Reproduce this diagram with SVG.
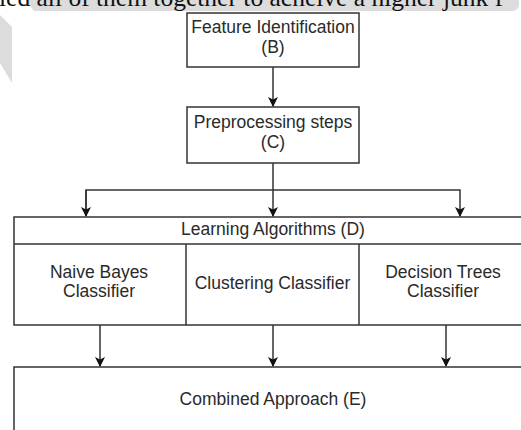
<svg xmlns="http://www.w3.org/2000/svg" width="521" height="430" viewBox="0 0 521 430">
<style>
.box{fill:#fff;stroke:#333;stroke-width:1.5}
.t{font-family:"Liberation Sans",Arial,sans-serif;font-size:17.5px;fill:#2a2a2a;text-anchor:middle}
.c{fill:none;stroke:#333;stroke-width:1.5}
.bg{fill:#dcdcdc}
</style>
<defs>
<marker id="ah" markerWidth="10" markerHeight="10" refX="9" refY="5" orient="auto" markerUnits="userSpaceOnUse">
<path d="M0,0 L10,5 L0,10 L2.5,5 Z" fill="#111"/>
</marker>
</defs>
<rect width="521" height="430" fill="#fff"/>
<g id="header">
<path class="bg" d="M22,-5 H512 Q519,-5 519,3 Q519,11 512,11 H34 Z"/>
<polygon class="bg" points="0,15 12,27 12,83 0,63" fill="#e2e2e2"/>
<text x="-1" y="6" font-family="'Liberation Serif','Times New Roman',serif" font-size="25.5" fill="#111">ied all of them together to acheive a higher junk f</text>
</g>
<g id="nodeB">
<rect class="box" x="187" y="13" width="172" height="54"/>
<text class="t" x="273" y="33">Feature Identification</text>
<text class="t" x="273" y="53">(B)</text>
</g>
<g id="nodeC">
<rect class="box" x="187" y="107" width="172" height="56"/>
<text class="t" x="273" y="128">Preprocessing steps</text>
<text class="t" x="273" y="148">(C)</text>
</g>
<g id="nodeD">
<rect class="box" x="14" y="217" width="530" height="108"/>
<line class="c" x1="14" y1="244" x2="544" y2="244"/>
<line class="c" x1="186" y1="244" x2="186" y2="325"/>
<line class="c" x1="359" y1="244" x2="359" y2="325"/>
<text class="t" x="273" y="235">Learning Algorithms (D)</text>
<text class="t" x="99" y="278">Naive Bayes</text>
<text class="t" x="99" y="297">Classifier</text>
<text class="t" x="272.5" y="289">Clustering Classifier</text>
<text class="t" x="443" y="278">Decision Trees</text>
<text class="t" x="443" y="297">Classifier</text>
</g>
<g id="nodeE">
<rect class="box" x="14" y="367" width="530" height="80"/>
<text class="t" x="273" y="405">Combined Approach (E)</text>
</g>
<g id="connectors">
<line class="c" x1="273" y1="67" x2="273" y2="106" marker-end="url(#ah)"/>
<line class="c" x1="273" y1="163" x2="273" y2="216" marker-end="url(#ah)"/>
<polyline class="c" points="86,216 86,190 460,190 460,216" marker-end="url(#ah)"/>
<line class="c" x1="86" y1="190" x2="86" y2="216" marker-end="url(#ah)"/>
<line class="c" x1="100" y1="325" x2="100" y2="366" marker-end="url(#ah)"/>
<line class="c" x1="273" y1="325" x2="273" y2="366" marker-end="url(#ah)"/>
<line class="c" x1="446" y1="325" x2="446" y2="366" marker-end="url(#ah)"/>
</g>
</svg>
